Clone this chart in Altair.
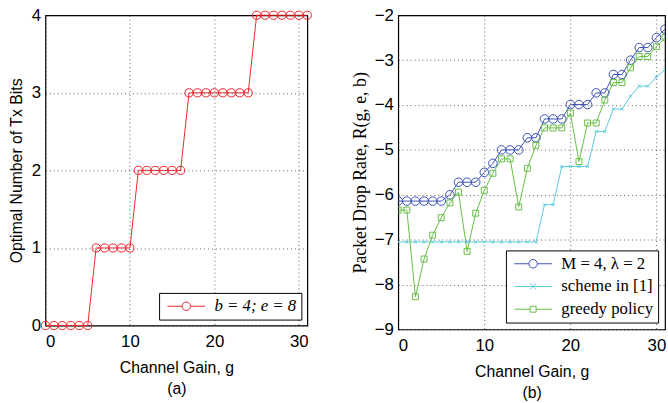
import altair as alt
import pandas as pd

gain = [0, 1, 2, 3, 4, 5, 6, 7, 8, 9, 10, 11, 12, 13, 14, 15,
        16, 17, 18, 19, 20, 21, 22, 23, 24, 25, 26, 27, 28, 29, 30, 31]
opt_bits = [0, 0, 0, 0, 0, 0, 1, 1, 1, 1, 1, 2, 2, 2, 2, 2,
            2, 3, 3, 3, 3, 3, 3, 3, 3, 4, 4, 4, 4, 4, 4, 4]
m4_rate = [-6.14, -6.14, -6.14, -6.14, -6.14, -6.14, -6.0, -5.72, -5.72, -5.72, -5.5,
           -5.3, -5.0, -5.0, -5.0, -4.73, -4.73, -4.31, -4.31, -4.31, -3.99, -3.99,
           -3.99, -3.73, -3.73, -3.32, -3.32, -3.0, -2.72, -2.72, -2.5, -2.31]
scheme_rate = [-7.05, -7.05, -7.05, -7.05, -7.05, -7.05, -7.05, -7.05, -7.05, -7.05,
               -7.05, -7.05, -7.05, -7.05, -7.05, -7.05, -7.05, -6.22, -6.22, -5.37,
               -5.37, -5.37, -5.37, -4.59, -4.59, -4.09, -4.09, -3.8, -3.58, -3.58,
               -3.38, -3.21]
greedy_rate = [-6.34, -6.34, -8.27, -7.43, -6.9, -6.51, -6.18, -5.94, -7.26, -6.41,
               -5.9, -5.52, -5.2, -5.2, -6.27, -5.41, -4.9, -4.51, -4.51, -4.51,
               -4.18, -5.26, -4.4, -4.4, -3.89, -3.5, -3.5, -3.17, -2.92, -2.92,
               -2.7, -2.5]

left_name = "b = 4; e = 8"
right_names = ["M = 4, λ = 2", "scheme in [1]", "greedy policy"]
red = "#f0262c"
right_colors = ["#3a50b4", "#5ccbdc", "#66bf45"]

# legend symbol paths (line with marker in the middle)
circ_leg = ("M-3.8,0L-0.86,0M0.86,0A0.86,0.86 0 1,1 -0.86,0"
            "A0.86,0.86 0 1,1 0.86,0M0.86,0L3.8,0")
cross_leg = "M-3.8,0L3.8,0M-0.6,-0.6L0.6,0.6M-0.6,0.6L0.6,-0.6"
sq_leg = "M-3.8,0L-0.6,0M-0.6,-0.6L0.6,-0.6L0.6,0.6L-0.6,0.6ZM0.6,0L3.8,0"
cross_mark = "M-1,-1L1,1M-1,1L1,-1"

df_left = pd.DataFrame({"g": gain, "v": opt_bits, "series": left_name})
df_right = pd.concat([
    pd.DataFrame({"g": gain, "v": m4_rate, "series": right_names[0]}),
    pd.DataFrame({"g": gain, "v": scheme_rate, "series": right_names[1]}),
    pd.DataFrame({"g": gain, "v": greedy_rate, "series": right_names[2]}),
], ignore_index=True)

xscale = alt.Scale(domain=[0, 31], nice=False, zero=False)


def xaxis(sub):
    return alt.Axis(values=[0, 10, 20, 30], title=["Channel Gain, g", sub],
                    titleLineHeight=21, titlePadding=11, labelPadding=8)


# ---------- left panel ----------
lx = alt.X("g:Q", scale=xscale, axis=xaxis("(a)"))
ly = alt.Y("v:Q", scale=alt.Scale(domain=[0, 4], nice=False),
           axis=alt.Axis(values=[0, 1, 2, 3, 4], title="Optimal Number of Tx Bits",
                         titlePadding=7))
l_line = alt.Chart(df_left).mark_line(color=red, strokeWidth=1).encode(x=lx, y=ly)
l_pts = alt.Chart(df_left).mark_point(shape="circle", size=68, color=red,
                                      filled=False, strokeWidth=1, clip=False,
                                      opacity=1).encode(x=lx, y=ly)
l_leg = alt.Chart(df_left).transform_filter("false").mark_point(
    filled=False, strokeWidth=1, opacity=1).encode(
    color=alt.Color("series:N", scale=alt.Scale(domain=[left_name], range=[red]),
                    legend=alt.Legend(title=None, orient="bottom-right", offset=6,
                                      labelFontStyle="italic")),
    shape=alt.Shape("series:N", scale=alt.Scale(domain=[left_name], range=[circ_leg])),
)
left = alt.layer(l_line, l_pts, l_leg).properties(width=265, height=314)

# ---------- right panel ----------
rx = alt.X("g:Q", scale=xscale, axis=xaxis("(b)"))
ry = alt.Y("v:Q", scale=alt.Scale(domain=[-9, -2], nice=False),
           axis=alt.Axis(values=[-9, -8, -7, -6, -5, -4, -3, -2],
                         title="Packet Drop Rate, R(g, e, b)",
                         titleFont="Liberation Serif", titleFontSize=18,
                         titlePadding=5))

layers = []
shapes = ["circle", cross_mark, "square"]
sizes = [75, 9, 36]
for name, col, shp, sz in zip(right_names, right_colors, shapes, sizes):
    base = alt.Chart(df_right).transform_filter(alt.datum.series == name)
    layers.append(base.mark_line(color=col, strokeWidth=1).encode(x=rx, y=ry))
for name, col, shp, sz in zip(right_names, right_colors, shapes, sizes):
    base = alt.Chart(df_right).transform_filter(alt.datum.series == name)
    layers.append(base.mark_point(shape=shp, size=sz, color=col, filled=False,
                                  strokeWidth=1, opacity=1, clip=True)
                  .encode(x=rx, y=ry))
r_leg = alt.Chart(df_right).transform_filter("false").mark_point(
    filled=False, strokeWidth=1, opacity=1).encode(
    color=alt.Color("series:N", scale=alt.Scale(domain=right_names, range=right_colors),
                    legend=alt.Legend(title=None, orient="bottom-right", offset=7)),
    shape=alt.Shape("series:N", scale=alt.Scale(domain=right_names,
                                                range=[circ_leg, cross_leg, sq_leg])),
)
layers.append(r_leg)
right = alt.layer(*layers).properties(width=270, height=318)

chart = alt.hconcat(left, right, spacing=37).resolve_scale(
    color="independent", shape="independent"
).properties(
    padding={"left": 7, "top": 3, "right": 0, "bottom": 0},
    background="white"
).configure_view(
    stroke="black", strokeWidth=1.2
).configure_axis(
    labelFont="Liberation Sans", labelFontSize=17, labelColor="black",
    titleFont="Liberation Sans", titleFontSize=16, titleFontWeight="normal",
    titleColor="black", domain=False, ticks=False, labelPadding=5,
    grid=True, gridColor="#222222", gridDash=[1, 3], gridOpacity=0.7,
    gridWidth=1
).configure_legend(
    strokeColor="black", fillColor="white", padding=5, cornerRadius=0,
    labelFont="Liberation Serif", labelFontSize=17, labelColor="black",
    symbolSize=100, symbolOffset=14, labelOffset=20, rowPadding=5,
    symbolStrokeWidth=1, symbolFillColor="transparent"
)

chart.save("out.html", embed_options={"renderer": "svg", "actions": False})
